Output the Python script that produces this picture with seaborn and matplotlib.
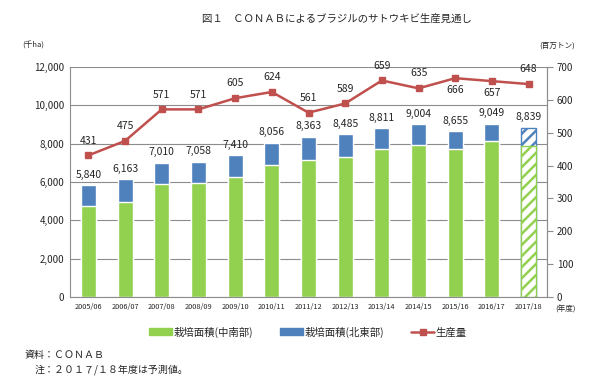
import numpy as np
import pandas as pd
import matplotlib
matplotlib.use("Agg")
import matplotlib.pyplot as plt
import seaborn as sns
from matplotlib.patches import Patch
from matplotlib.lines import Line2D

# data
years = ["2005/06", "2006/07", "2007/08", "2008/09", "2009/10", "2010/11", "2011/12",
         "2012/13", "2013/14", "2014/15", "2015/16", "2016/17", "2017/18"]
area_total = [5840, 6163, 7010, 7058, 7410, 8056, 8363, 8485, 8811, 9004, 8655, 9049, 8839]
area_south = [4730, 4970, 5910, 5960, 6280, 6900, 7160, 7320, 7700, 7950, 7700, 8120, 7900]
production = [431, 475, 571, 571, 605, 624, 561, 589, 659, 635, 666, 657, 648]
label_below = ["2015/16", "2016/17"]

GREEN = "#92D050"
BLUE = "#4F81BD"
RED = "#C0504D"

sns.set_style("white")
plt.rcParams["font.family"] = ["Noto Sans CJK JP", "DejaVu Sans"]
plt.rcParams["hatch.linewidth"] = 1.8

df = pd.DataFrame({"year": years, "total": area_total, "south": area_south,
                   "prod": production})

fig = plt.figure(figsize=(6.05, 3.8), dpi=100)
ax = fig.add_axes([70 / 605, 1 - 297 / 380, (547 - 70) / 605, (297 - 67) / 380])

# stacked bars: draw total in blue, then south part in green over it
sns.barplot(data=df, x="year", y="total", color=BLUE, saturation=1, width=0.41, ax=ax)
sns.barplot(data=df, x="year", y="south", color=GREEN, saturation=1, width=0.41, ax=ax)

n = len(years)
# last year is a forecast -> hatched bars
for p, col in [(ax.patches[n - 1], BLUE), (ax.patches[2 * n - 1], GREEN)]:
    p.set_facecolor("white")
    p.set_edgecolor(col)
    p.set_hatch("///")
    p.set_linewidth(1.0)

ax.set_ylim(0, 12000)
ax.set_xlim(-0.5, n - 0.5)
ax.set_yticks(np.arange(0, 12001, 2000))
ax.set_yticklabels([f"{v:,}" for v in range(0, 12001, 2000)], fontsize=7)
ax.yaxis.grid(True, color="#8c8c8c", linewidth=0.8)
ax.set_axisbelow(True)
ax.set_xlabel("")
ax.set_ylabel("")
ax.tick_params(axis="x", labelsize=5.3, length=0, pad=4)
ax.tick_params(axis="y", length=0, pad=4)
for s in ["left", "bottom", "right", "top"]:
    ax.spines[s].set_color("#8c8c8c")
    ax.spines[s].set_linewidth(0.8)
ax.spines["top"].set_visible(False)

for i, v in enumerate(area_total):
    ax.text(i, v + 280, f"{v:,}", ha="center", va="bottom", fontsize=7.5)

# production line on the right axis
ax2 = ax.twinx()
ax2.plot(np.arange(n), production, color=RED, marker="s", markersize=4.5, linewidth=1.8)
ax2.set_ylim(0, 700)
ax2.set_yticks(np.arange(0, 701, 100))
ax2.tick_params(axis="y", labelsize=7, length=4, direction="out", color="#8c8c8c", pad=3)
for s in ["left", "bottom", "right", "top"]:
    ax2.spines[s].set_visible(False)
ax2.spines["right"].set_visible(True)
ax2.spines["right"].set_color("#8c8c8c")
ax2.spines["right"].set_linewidth(0.8)

for i, (y, v) in enumerate(zip(years, production)):
    if y in label_below:
        ax2.text(i, v - 22, str(v), ha="center", va="top", fontsize=7.5)
    else:
        ax2.text(i, v + 30, str(v), ha="center", va="bottom", fontsize=7.5)

fig.text(337 / 605, 1 - 19 / 380, "図１　ＣＯＮＡＢによるブラジルのサトウキビ生産見通し",
         ha="center", va="center", fontsize=7.5)
fig.text(22 / 605, 1 - 46 / 380, "(千ha)", ha="left", va="center", fontsize=5.5)
fig.text(575 / 605, 1 - 46 / 380, "(百万トン)", ha="right", va="center", fontsize=5.5)
fig.text(555 / 605, 1 - 310 / 380, "(年度)", ha="left", va="center", fontsize=5.5)

handles = [Patch(facecolor=GREEN, edgecolor=GREEN),
           Patch(facecolor=BLUE, edgecolor=BLUE),
           Line2D([0], [0], color=RED, marker="s", markersize=4, linewidth=1.8)]
labels = ["栽培面積(中南部)", "栽培面積(北東部)", "生産量"]
fig.legend(handles, labels, loc="center", bbox_to_anchor=(308 / 605, 1 - 332 / 380),
           ncol=3, frameon=False, fontsize=7.5, handlelength=2.2, handleheight=0.6,
           columnspacing=2.6, handletextpad=0.15)

fig.text(25 / 605, 1 - 355 / 380, "資料：ＣＯＮＡＢ", ha="left", va="center", fontsize=7.2)
fig.text(35 / 605, 1 - 370 / 380, "注：２０１７/１８年度は予測値。", ha="left", va="center", fontsize=7.2)

fig.savefig("out.png", dpi=100)
